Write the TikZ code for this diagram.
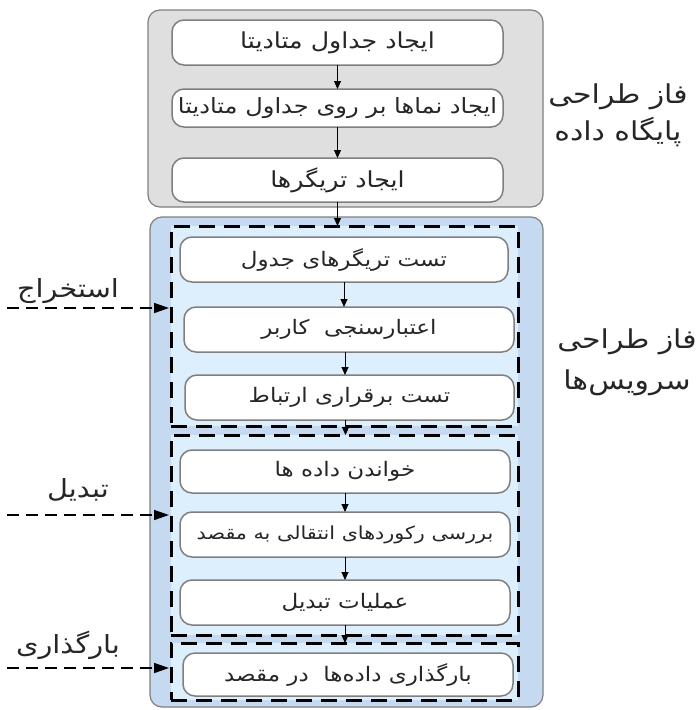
\documentclass[tikz,border=0pt]{standalone}
\usepackage{fontspec}
\usetikzlibrary{arrows.meta}
\TeXXeTstate=1
\newfontfamily\fa[Script=Arabic,FakeStretch=1.15]{DejaVu Sans}
\newcommand\pers[1]{{\fa\beginR #1\endR}}
\newcommand\fsz[1]{\fontsize{#1}{#1}\selectfont}
\definecolor{grayfill}{HTML}{DFDFDF}
\definecolor{edgegray}{HTML}{7F7F7F}
\definecolor{bluefill}{HTML}{C5D9F1}
\definecolor{lightblue}{HTML}{DDEEFD}
\definecolor{txt}{HTML}{262626}
\tikzset{
  panel/.style={draw=edgegray, line width=1.2pt, rounded corners=12pt, inner sep=0pt, outer sep=0pt},
  stepbox/.style={draw=edgegray, fill=white, line width=1.5pt, rounded corners=12pt, inner sep=0pt, outer sep=0pt,
     font=\fsz{20}, text=txt},
  dashbox/.style={draw=black, fill=lightblue, line width=3pt, dash pattern=on 16pt off 9pt, inner sep=0pt, outer sep=0pt},
  flow/.style={draw=black, line width=0.9pt, -{Triangle[length=8pt,width=7pt]}},
  labline/.style={draw=black, line width=1.5pt, dash pattern=on 12pt off 7pt, -{Triangle[length=15pt,width=10pt]}},
  lab/.style={font=\fsz{25}, text=txt, inner sep=0pt},
  phase/.style={font=\fsz{26}, text=txt, align=center, inner sep=0pt}
}
\begin{document}
\begin{tikzpicture}[x=1pt,y=-1pt]
\useasboundingbox (0,0) rectangle (697,710);
% gray phase
\node[panel, fill=grayfill, minimum width=395pt, minimum height=197pt] (gp) at (345.5,108.5) {};
\node[stepbox, minimum width=331pt, minimum height=45pt, font=\fsz{22}] (g1) at (337.5,42.5) {\pers{ایجاد جداول متادیتا}};
\node[stepbox, minimum width=331pt, minimum height=38pt, font=\fsz{21}] (g2) at (337.5,108) {\pers{ایجاد نماها بر روی جداول متادیتا}};
\node[stepbox, minimum width=331pt, minimum height=44pt, font=\fsz{22}] (g3) at (337.5,180) {\pers{ایجاد تریگرها}};
% blue phase
\node[panel, fill=bluefill, minimum width=393pt, minimum height=490pt] (bp) at (346.5,462) {};
\node[dashbox, minimum width=347pt, minimum height=200pt] (d1) at (344.5,326) {};
\node[dashbox, minimum width=347pt, minimum height=200pt] (d2) at (344.5,535) {};
\node[dashbox, minimum width=347pt, minimum height=57pt] (d3) at (344.5,671.5) {};
\node[stepbox, minimum width=328pt, minimum height=45pt] (b1) at (344,259.5) {\pers{تست تریگرهای جدول}};
\node[stepbox, minimum width=330pt, minimum height=45pt] (b2) at (349,329.5) {\pers{اعتبارسنجی\ \ کاربر}};
\node[stepbox, minimum width=329pt, minimum height=45pt] (b3) at (349.5,397.5) {\pers{تست برقراری ارتباط}};
\node[stepbox, minimum width=330pt, minimum height=43pt] (b4) at (345,471.5) {\pers{خواندن داده ها}};
\node[stepbox, minimum width=330pt, minimum height=45pt, font=\fsz{18}] (b5) at (345,534.5) {\pers{بررسی رکوردهای انتقالی به مقصد}};
\node[stepbox, minimum width=330pt, minimum height=45pt] (b6) at (345,602.5) {\pers{عملیات تبدیل}};
\node[stepbox, minimum width=330pt, minimum height=43pt] (b7) at (348,674.5) {\pers{بارگذاری داده‌ها\ \ در مقصد}};
% flow arrows
\draw[flow] (g1.south) -- (g1.south |- g2.north);
\draw[flow] (g2.south) -- (g2.south |- g3.north);
\draw[flow] (g3.south) -- (g3.south |- d1.north);
\draw[flow] (b1.south) -- (b1.south |- b2.north);
\draw[flow] ([xshift=-4pt]b2.south) -- ([xshift=-4pt]b2.south |- b3.north);
\draw[flow] ([xshift=-4pt]b3.south) -- ([xshift=-4pt]b3.south |- d2.north);
\draw[flow] (b4.south) -- (b4.south |- b5.north);
\draw[flow] (b5.south) -- (b5.south |- b6.north);
\draw[flow] (b6.south) -- (b6.south |- d3.north);
% phase labels
\node[phase] (ph1) at (618,115) {\pers{فاز طراحی}\\[6pt]\pers{پایگاه داده}};
\node[phase] (ph2) at (627,362) {\pers{فاز طراحی}\\[14pt]\pers{سرویس‌ها}};
% left labels
\node[lab] (le) at (68,291) {\pers{استخراج}};
\node[lab] (lt) at (78,490) {\pers{تبدیل}};
\node[lab] (ll) at (68,645) {\pers{بارگذاری}};
\coordinate (ce) at (7,308);
\coordinate (ct) at (7,515);
\coordinate (cl) at (7,668);
\draw[labline, shorten >=2pt] (ce) -- (d1.west |- ce);
\draw[labline, shorten >=2pt] (ct) -- (d2.west |- ct);
\draw[labline, shorten >=2pt] (cl) -- (d3.west |- cl);
\end{tikzpicture}
\end{document}
